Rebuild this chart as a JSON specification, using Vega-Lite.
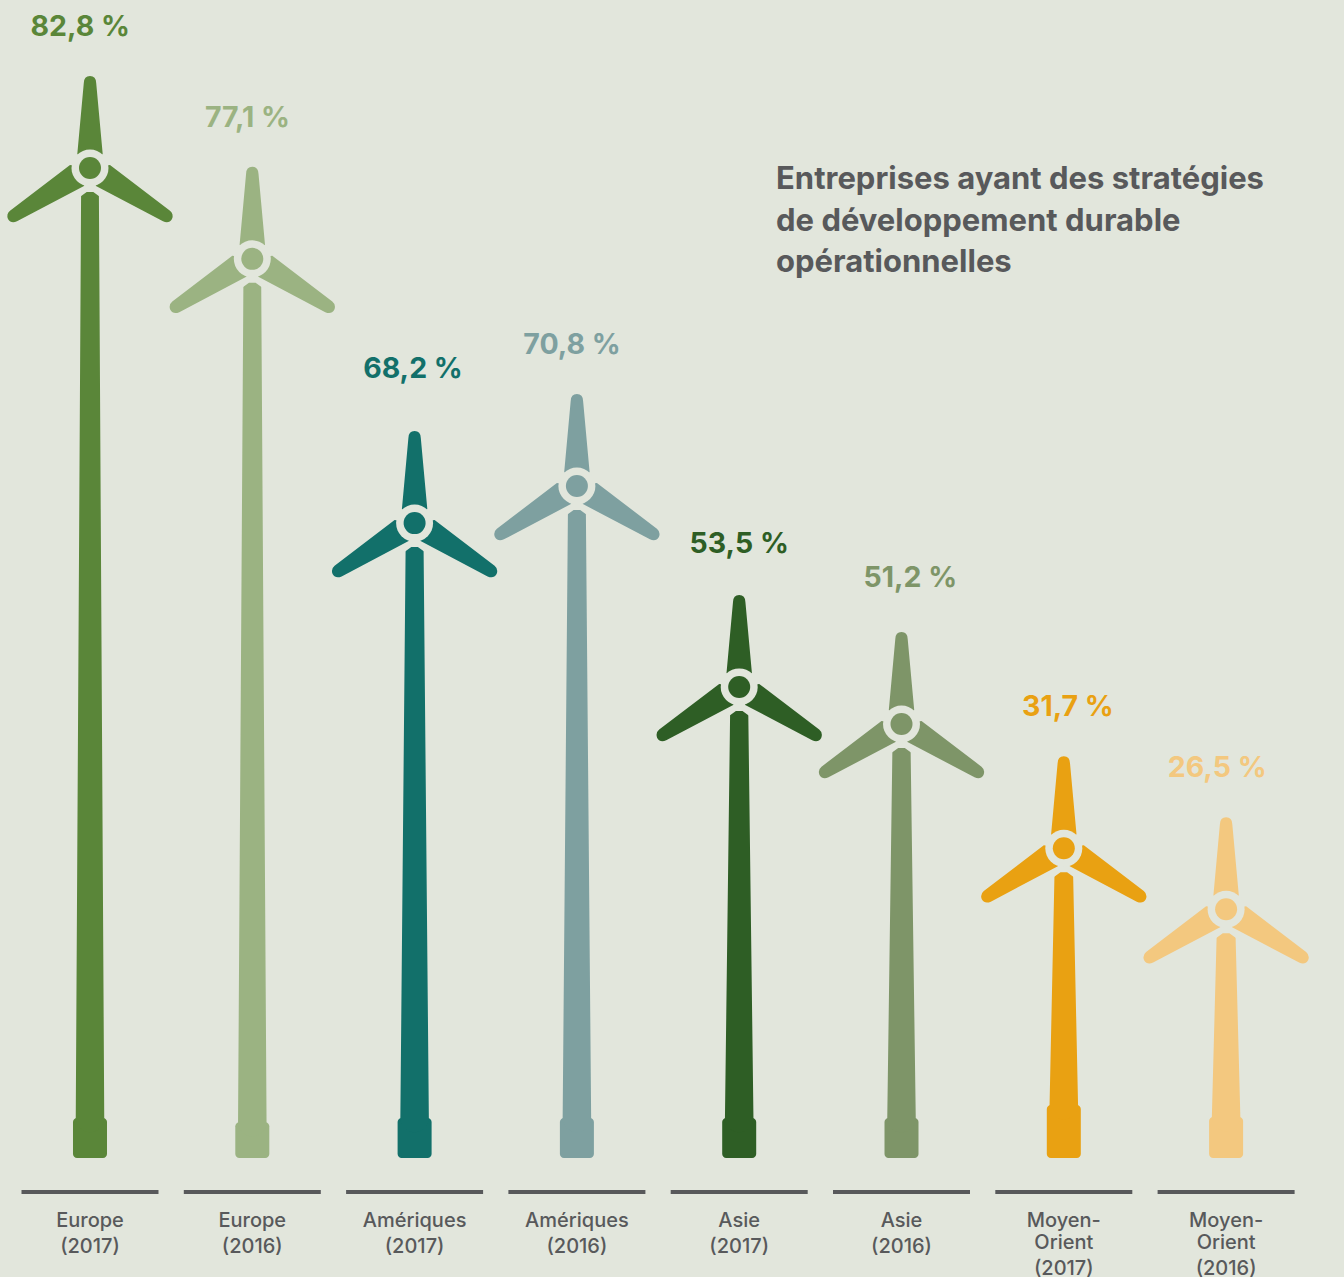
{
"$schema":"https://vega.github.io/schema/vega-lite/v6.json",
"width":1344,"height":1277,"padding":0,"autosize":{"type":"none"},
"background":"#e2e6dc",
"config":{"view":{"stroke":null}},
"datasets":{
"eoliennes":[
{"rang":0,"serie":"Europe (2017)","hauteur":82.8,"socle":3.35,"etiquette":"82,8 %","etiquetteX":-0.06,"etiquetteY":94.59},
{"rang":1,"serie":"Europe (2016)","hauteur":75.2,"socle":3.0,"etiquette":"77,1 %","etiquetteX":0.97,"etiquetteY":86.98},
{"rang":2,"serie":"Amériques (2017)","hauteur":53.1,"socle":3.35,"etiquette":"68,2 %","etiquetteX":1.99,"etiquetteY":65.98},
{"rang":3,"serie":"Amériques (2016)","hauteur":56.2,"socle":3.35,"etiquette":"70,8 %","etiquetteX":2.97,"etiquetteY":67.99},
{"rang":4,"serie":"Asie (2017)","hauteur":39.4,"socle":3.35,"etiquette":"53,5 %","etiquetteX":4.0,"etiquetteY":51.35},
{"rang":5,"serie":"Asie (2016)","hauteur":36.3,"socle":3.35,"etiquette":"51,2 %","etiquetteX":5.055,"etiquetteY":48.5},
{"rang":6,"serie":"Moyen-Orient (2017)","hauteur":25.9,"socle":4.43,"etiquette":"31,7 %","etiquetteX":6.025,"etiquetteY":37.72},
{"rang":7,"serie":"Moyen-Orient (2016)","hauteur":20.8,"socle":3.43,"etiquette":"26,5 %","etiquetteX":6.945,"etiquetteY":32.6}
],
"libelles":[
{"rang":0,"cote":-5.75,"ligne":"Europe"},{"rang":0,"cote":-7.97,"ligne":"(2017)"},
{"rang":1,"cote":-5.75,"ligne":"Europe"},{"rang":1,"cote":-7.97,"ligne":"(2016)"},
{"rang":2,"cote":-5.75,"ligne":"Amériques"},{"rang":2,"cote":-7.97,"ligne":"(2017)"},
{"rang":3,"cote":-5.75,"ligne":"Amériques"},{"rang":3,"cote":-7.97,"ligne":"(2016)"},
{"rang":4,"cote":-5.75,"ligne":"Asie"},{"rang":4,"cote":-7.97,"ligne":"(2017)"},
{"rang":5,"cote":-5.75,"ligne":"Asie"},{"rang":5,"cote":-7.97,"ligne":"(2016)"},
{"rang":6,"cote":-5.75,"ligne":"Moyen-"},{"rang":6,"cote":-7.61,"ligne":"Orient"},{"rang":6,"cote":-9.78,"ligne":"(2017)"},
{"rang":7,"cote":-5.75,"ligne":"Moyen-"},{"rang":7,"cote":-7.61,"ligne":"Orient"},{"rang":7,"cote":-9.78,"ligne":"(2016)"}
],
"titre":[
{"rang":4.227,"cote":81.02,"ligne":"Entreprises ayant des stratégies"},
{"rang":4.227,"cote":77.53,"ligne":"de développement durable"},
{"rang":4.227,"cote":74.12,"ligne":"opérationnelles"}
]
},
"layer":[
{"data":{"name":"eoliennes"},
 "mark":{"type":"tick","orient":"horizontal","size":137,"thickness":4,"color":"#58595b","opacity":1},
 "encoding":{
  "x":{"field":"rang","type":"quantitative","axis":null,"scale":{"domain":[-0.5545,7.7264],"nice":false,"zero":false,"padding":0}},
  "y":{"datum":-2.84,"type":"quantitative","axis":null,"scale":{"domain":[-9.952,96.85],"nice":false,"zero":false}}}},
{"data":{"name":"eoliennes"},
 "mark":{"type":"bar","size":34,"cornerRadius":4,"opacity":1},
 "encoding":{
  "x":{"field":"rang","type":"quantitative","axis":null,"scale":{"domain":[-0.5545,7.7264],"nice":false,"zero":false,"padding":0}},
  "y":{"field":"socle","type":"quantitative","axis":null,"stack":null,"scale":{"domain":[-9.952,96.85],"nice":false,"zero":false}},
  "y2":{"datum":0},
  "color":{"field":"serie","type":"nominal","legend":null,"scale":{"domain":["Europe (2017)","Europe (2016)","Amériques (2017)","Amériques (2016)","Asie (2017)","Asie (2016)","Moyen-Orient (2017)","Moyen-Orient (2016)"],"range":["#5a8639","#9bb382","#12706a","#7ea0a0","#2e5e25","#7e9568","#e9a112","#f3c87f"]}}}},
{"data":{"name":"eoliennes"},
 "transform":[{"fold":["socle","hauteur"],"as":["partie","cote"]}],
 "mark":{"type":"trail","opacity":1},
 "encoding":{
  "x":{"field":"rang","type":"quantitative","axis":null,"scale":{"domain":[-0.5545,7.7264],"nice":false,"zero":false,"padding":0}},
  "y":{"field":"cote","type":"quantitative","axis":null,"scale":{"domain":[-9.952,96.85],"nice":false,"zero":false}},
  "order":{"field":"cote","type":"quantitative"},
  "size":{"field":"partie","type":"ordinal","legend":null,"scale":{"domain":["socle","hauteur"],"range":[28.5,17.5]}},
  "color":{"field":"serie","type":"nominal","legend":null}}},
{"data":{"name":"eoliennes"},
 "mark":{"type":"point","filled":true,"opacity":1,"size":40000,"color":"#e2e6dc","shape":"M-0.15 -0.12 L0.15 -0.12 L0.15 0.325 L0.033 0.24 L-0.033 0.24 L-0.15 0.325 Z"},
 "encoding":{
  "x":{"field":"rang","type":"quantitative","axis":null,"scale":{"domain":[-0.5545,7.7264],"nice":false,"zero":false,"padding":0}},
  "y":{"field":"hauteur","type":"quantitative","axis":null,"scale":{"domain":[-9.952,96.85],"nice":false,"zero":false}}}},
{"data":{"name":"eoliennes"},
 "mark":{"type":"point","filled":true,"opacity":1,"size":40000,"shape":"M-0.127 -0.14 L-0.062 -0.85 Q-0.06 -0.92 0 -0.92 Q0.06 -0.92 0.062 -0.85 L0.127 -0.14 L0 0 Z M-0.2 -0.03 L-0.8 0.427 Q-0.84 0.46 -0.82 0.51 Q-0.79 0.56 -0.73 0.533 L-0.06 0.18 L0 0 Z M0.2 -0.03 L0.8 0.427 Q0.84 0.46 0.82 0.51 Q0.79 0.56 0.73 0.533 L0.06 0.18 L0 0 Z"},
 "encoding":{
  "x":{"field":"rang","type":"quantitative","axis":null,"scale":{"domain":[-0.5545,7.7264],"nice":false,"zero":false,"padding":0}},
  "y":{"field":"hauteur","type":"quantitative","axis":null,"scale":{"domain":[-9.952,96.85],"nice":false,"zero":false}},
  "color":{"field":"serie","type":"nominal","legend":null}}},
{"data":{"name":"eoliennes"},
 "mark":{"type":"point","shape":"circle","filled":true,"opacity":1,"size":1369,"color":"#e2e6dc"},
 "encoding":{
  "x":{"field":"rang","type":"quantitative","axis":null,"scale":{"domain":[-0.5545,7.7264],"nice":false,"zero":false,"padding":0}},
  "y":{"field":"hauteur","type":"quantitative","axis":null,"scale":{"domain":[-9.952,96.85],"nice":false,"zero":false}}}},
{"data":{"name":"eoliennes"},
 "mark":{"type":"point","shape":"circle","filled":true,"opacity":1,"size":484},
 "encoding":{
  "x":{"field":"rang","type":"quantitative","axis":null,"scale":{"domain":[-0.5545,7.7264],"nice":false,"zero":false,"padding":0}},
  "y":{"field":"hauteur","type":"quantitative","axis":null,"scale":{"domain":[-9.952,96.85],"nice":false,"zero":false}},
  "color":{"field":"serie","type":"nominal","legend":null}}},
{"data":{"name":"eoliennes"},
 "mark":{"type":"text","font":"Inter","fontWeight":"bold","fontSize":28.5,"baseline":"middle","align":"center"},
 "encoding":{
  "x":{"field":"etiquetteX","type":"quantitative","axis":null,"scale":{"domain":[-0.5545,7.7264],"nice":false,"zero":false,"padding":0}},
  "y":{"field":"etiquetteY","type":"quantitative","axis":null,"scale":{"domain":[-9.952,96.85],"nice":false,"zero":false}},
  "text":{"field":"etiquette","type":"nominal"},
  "color":{"field":"serie","type":"nominal","legend":null}}},
{"data":{"name":"libelles"},
 "mark":{"type":"text","font":"Inter","fontWeight":500,"fontSize":20,"align":"center","baseline":"alphabetic","color":"#58595b"},
 "encoding":{
  "x":{"field":"rang","type":"quantitative","axis":null,"scale":{"domain":[-0.5545,7.7264],"nice":false,"zero":false,"padding":0}},
  "y":{"field":"cote","type":"quantitative","axis":null,"scale":{"domain":[-9.952,96.85],"nice":false,"zero":false}},
  "text":{"field":"ligne","type":"nominal"}}},
{"data":{"name":"titre"},
 "mark":{"type":"text","font":"Inter","fontWeight":"bold","fontSize":31,"align":"left","baseline":"alphabetic","color":"#58595b"},
 "encoding":{
  "x":{"field":"rang","type":"quantitative","axis":null,"scale":{"domain":[-0.5545,7.7264],"nice":false,"zero":false,"padding":0}},
  "y":{"field":"cote","type":"quantitative","axis":null,"scale":{"domain":[-9.952,96.85],"nice":false,"zero":false}},
  "text":{"field":"ligne","type":"nominal"}}}
]
}
